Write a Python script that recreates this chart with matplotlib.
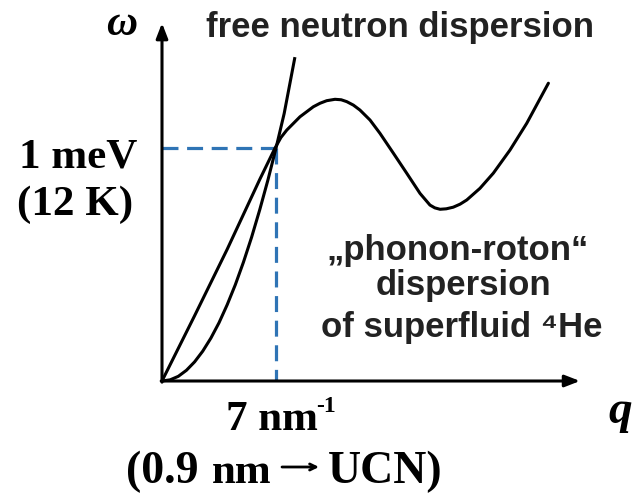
import matplotlib
matplotlib.use("Agg")
import matplotlib.pyplot as plt

# phonon-roton dispersion of superfluid 4He (q in nm^-1, omega in meV)
roton_q = [0, 2, 4, 6, 6.94, 7.3, 7.66, 8.47, 9.29, 9.7, 10.11, 10.62, 11.0, 11.34,
           11.75, 12.15, 12.77, 13.38, 14.20, 15.02, 15.84, 16.45, 16.75, 17.07,
           17.45, 17.88, 18.3, 18.71, 19.52, 20.34, 21.36, 22.39, 23.72]
roton_w = [0, 0.28, 0.565, 0.865, 1.0, 1.045, 1.077, 1.134, 1.177, 1.192, 1.203,
           1.209, 1.207, 1.199, 1.184, 1.163, 1.120, 1.063, 0.978, 0.892, 0.805,
           0.755, 0.743, 0.737, 0.739, 0.746, 0.759, 0.777, 0.827, 0.892, 0.991,
           1.106, 1.278]

# free neutron dispersion
neutron_q = [0, 0.5, 1, 1.5, 2, 2.5, 3, 3.5, 4, 4.5, 5, 5.5, 6, 6.5, 7, 7.5, 8.16]
neutron_w = [0, 0.005, 0.02, 0.046, 0.082, 0.128, 0.184, 0.25, 0.327, 0.413, 0.51,
             0.617, 0.735, 0.862, 1.0, 1.148, 1.39]

# crossing point
q_cross = 7
w_cross = 1.0

W, H = 636, 494
fig = plt.figure(figsize=(W / 100, H / 100), dpi=100)
ax = fig.add_axes([0, 0, 1, 1])

# pixel scale of the drawing: origin at (162, 381)
sx, sy = 16.29, 233.0
ax.set_xlim(-162 / sx, (W - 162) / sx)
ax.set_ylim((381 - H) / sy, 381 / sy)
ax.axis("off")

serif = ["Liberation Serif", "DejaVu Serif"]
sans = ["Liberation Sans", "DejaVu Sans"]


def px(x, y):
    return x / W, 1 - y / H


# axes with arrows
arrow = dict(arrowstyle="-|>,head_length=0.9,head_width=0.35", lw=2.2, color="black",
             shrinkA=0, shrinkB=0)
ax.annotate("", xy=(25.66, 0), xytext=(-0.05, 0), arrowprops=arrow)
ax.annotate("", xy=(0, 1.536), xytext=(0, -0.005), arrowprops=arrow)

# dashed guides
blue = "#2f74b5"
ax.plot([0, q_cross], [w_cross, w_cross], color=blue, lw=2.3, dashes=(5, 2.7))
ax.plot([q_cross, q_cross], [w_cross, 0], color=blue, lw=2.3, dashes=(5, 2.7))

# curves
ax.plot(neutron_q, neutron_w, color="black", lw=2.2, solid_capstyle="butt",
        solid_joinstyle="round")
ax.plot(roton_q, roton_w, color="black", lw=2.2, solid_capstyle="round",
        solid_joinstyle="round")

# labels
fig.text(*px(106, 35), "ω", family=serif, weight="bold", style="italic", fontsize=31)
fig.text(*px(608, 423), "q", family=serif, weight="bold", style="italic", fontsize=34)
fig.text(*px(206, 37), "free neutron dispersion", family=sans, weight="bold",
         fontsize=25, color="#222222")
fig.text(*px(19, 167), "1 meV", family=serif, weight="bold", fontsize=31)
fig.text(*px(17, 215), "(12 K)", family=serif, weight="bold", fontsize=31)
fig.text(*px(458, 260), "„phonon-roton“", family=sans, weight="bold", fontsize=25,
         ha="center", color="#222222")
fig.text(*px(463, 295), "dispersion", family=sans, weight="bold", fontsize=25,
         ha="center", color="#222222")
fig.text(*px(462, 337), "of superfluid ⁴He", family=sans, weight="bold", fontsize=25,
         ha="center", color="#222222")
fig.text(*px(226, 430), "7 nm", family=serif, weight="bold", fontsize=31)
fig.text(*px(316, 412), "-1", family=serif, weight="bold", fontsize=17)
fig.text(*px(126, 483), "(0.9", family=serif, weight="bold", fontsize=33)
fig.text(*px(212, 483), "nm", family=serif, weight="bold", fontsize=31)
ax.annotate("", xy=px(319, 467), xytext=px(282, 467), xycoords="figure fraction",
            textcoords="figure fraction",
            arrowprops=dict(arrowstyle="->,head_length=0.45,head_width=0.22", lw=2,
                            color="black", shrinkA=0, shrinkB=0))
fig.text(*px(328, 483), "UCN)", family=serif, weight="bold", fontsize=33)

fig.savefig("out.png", dpi=100)
